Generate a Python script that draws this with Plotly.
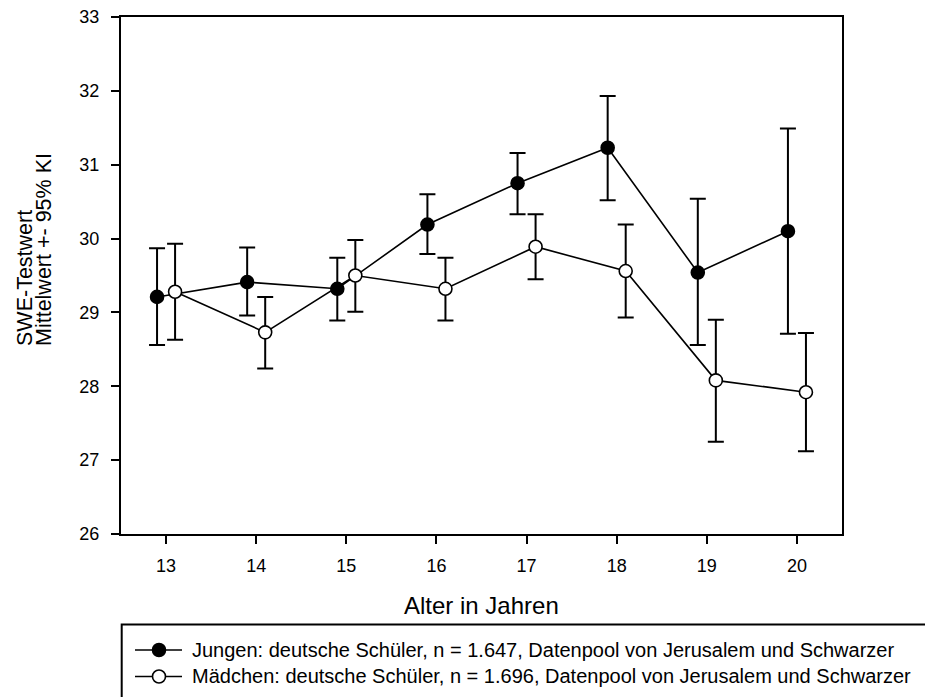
import plotly.graph_objects as go

# Age groups (years)
ages = [13, 14, 15, 16, 17, 18, 19, 20]

# Jungen: mean SWE score with 95% confidence limits
jungen_mean = [29.21, 29.41, 29.32, 30.19, 30.75, 31.23, 29.54, 30.10]
jungen_upper = [29.87, 29.88, 29.74, 30.60, 31.16, 31.93, 30.54, 31.49]
jungen_lower = [28.56, 28.96, 28.89, 29.79, 30.33, 30.52, 28.56, 28.71]

# Mädchen: mean SWE score with 95% confidence limits
maedchen_mean = [29.28, 28.73, 29.50, 29.32, 29.89, 29.56, 28.08, 27.92]
maedchen_upper = [29.93, 29.21, 29.98, 29.74, 30.33, 30.19, 28.90, 28.72]
maedchen_lower = [28.63, 28.24, 29.01, 28.89, 29.45, 28.93, 27.25, 27.12]

jungen_label = "Jungen: deutsche Schüler, n = 1.647, Datenpool von Jerusalem und Schwarzer"
maedchen_label = "Mädchen: deutsche Schüler, n = 1.696, Datenpool von Jerusalem und Schwarzer"

FONT = "Liberation Sans, Arial, sans-serif"
DODGE = 0.1  # horizontal shift so the two groups' error bars don't overlap
MARKER_SIZE = 13
LINE_W = 1.6

W, H = 925, 697
ML, MR, MT, MB = 121, 83, 17, 163
PW, PH = W - ML - MR, H - MT - MB


def px_x(p):
    return (p - ML) / PW


def px_y(p):
    return (H - MB - p) / PH


def ci_trace(mean, upper, lower, shift, fill, name):
    return go.Scatter(
        x=[a + shift for a in ages],
        y=mean,
        name=name,
        mode="lines+markers",
        line=dict(color="black", width=LINE_W),
        marker=dict(size=MARKER_SIZE, color=fill, line=dict(color="black", width=LINE_W)),
        error_y=dict(
            type="data",
            symmetric=False,
            array=[u - m for u, m in zip(upper, mean)],
            arrayminus=[m - l for m, l in zip(mean, lower)],
            color="black",
            thickness=2,
            width=8,
        ),
    )


fig = go.Figure()
fig.add_trace(ci_trace(jungen_mean, jungen_upper, jungen_lower, -DODGE, "black", jungen_label))
fig.add_trace(ci_trace(maedchen_mean, maedchen_upper, maedchen_lower, DODGE, "white", maedchen_label))

axis_common = dict(
    showgrid=False,
    zeroline=False,
    showline=True,
    linecolor="black",
    linewidth=2,
    mirror=True,
    ticks="outside",
    ticklen=8,
    tickwidth=1.5,
    tickcolor="black",
    automargin=False,
    tickfont=dict(family=FONT, size=18, color="black"),
)

fig.update_xaxes(range=[12.5, 20.5], tickvals=ages, ticklabelstandoff=6, **axis_common)
fig.update_yaxes(range=[26, 33], dtick=1, ticklabelstandoff=8, **axis_common)

# Legend box below the chart, running off the lower right of the page
fig.add_shape(
    type="rect", xref="paper", yref="paper",
    x0=px_x(121.7), x1=px_x(990), y0=px_y(624.5), y1=px_y(740),
    line=dict(color="black", width=2), fillcolor="rgba(0,0,0,0)",
)
for label, fill, row_y in ((jungen_label, "black", 650), (maedchen_label, "white", 676.5)):
    fig.add_shape(
        type="line", xref="paper", yref="paper",
        x0=px_x(135), x1=px_x(182), y0=px_y(row_y), y1=px_y(row_y),
        line=dict(color="black", width=LINE_W),
    )
    half = MARKER_SIZE / 2
    fig.add_shape(
        type="circle", xref="paper", yref="paper",
        xsizemode="pixel", ysizemode="pixel",
        xanchor=px_x(159), yanchor=px_y(row_y),
        x0=-half, x1=half, y0=-half, y1=half,
        fillcolor=fill, line=dict(color="black", width=LINE_W),
    )
    fig.add_annotation(
        text=label, xref="paper", yref="paper",
        x=px_x(190), y=px_y(row_y), xanchor="left", yanchor="middle",
        showarrow=False, font=dict(family=FONT, size=20, color="black"),
    )

fig.add_annotation(
    text="Alter in Jahren", xref="paper", yref="paper",
    x=0.5, y=px_y(605), xanchor="center", yanchor="middle",
    showarrow=False, font=dict(family=FONT, size=24, color="black"),
)
# Two-line y-axis title, lines left-aligned along the bottom
for line_text, cx in (("SWE-Testwert", 25), ("Mittelwert +- 95% KI", 43.5)):
    fig.add_annotation(
        text=line_text, xref="paper", yref="paper",
        x=px_x(cx), y=px_y(348), xanchor="center", yanchor="bottom",
        textangle=-90,
        showarrow=False, font=dict(family=FONT, size=21.5, color="black"),
    )

fig.update_layout(
    width=W,
    height=H,
    margin=dict(l=ML, r=MR, t=MT, b=MB),
    paper_bgcolor="white",
    plot_bgcolor="white",
    showlegend=False,
)

fig.write_html("out.html")
